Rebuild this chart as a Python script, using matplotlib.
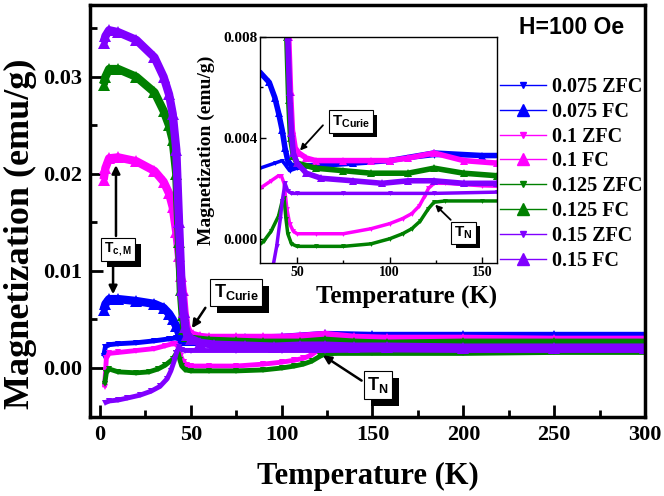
import matplotlib
matplotlib.use("Agg")
import matplotlib.pyplot as plt
import matplotlib.patheffects as pe
from matplotlib.lines import Line2D
from matplotlib.ticker import MultipleLocator, FormatStrFormatter

plt.rcParams["font.family"] = "Liberation Serif"
plt.rcParams["font.weight"] = "bold"
plt.rcParams["axes.labelweight"] = "bold"
plt.rcParams["mathtext.fontset"] = "custom"
plt.rcParams["mathtext.rm"] = "Liberation Sans:bold"
plt.rcParams["mathtext.default"] = "rm"

# M(T) curves, temperature in K, magnetization in emu/g
t_075_zfc = [2, 3, 5, 10, 20, 30, 38, 42, 44, 46, 50, 60, 80, 100, 124, 150, 200, 250, 300]
m_075_zfc = [0.0012, 0.0022, 0.0024, 0.0025, 0.0026, 0.0028, 0.0030, 0.0031, 0.0029, 0.0027,
             0.0028, 0.0029, 0.0030, 0.0031, 0.0033, 0.0033, 0.0033, 0.0033, 0.0032]

t_075_fc = [2, 3, 5, 10, 20, 30, 35, 38, 40, 42, 43.5, 45, 47, 50, 60, 80, 100, 124, 150,
            200, 250, 300]
m_075_fc = [0.0060, 0.0066, 0.0071, 0.0071, 0.0069, 0.0066, 0.0062, 0.0056, 0.0050, 0.0043,
            0.0036, 0.0031, 0.0029, 0.0029, 0.0029, 0.0030, 0.0031, 0.0034, 0.0033, 0.0033,
            0.0033, 0.0033]

t_10_zfc = [2.5, 3.5, 5, 10, 20, 30, 36, 40, 41.5, 43, 44.5, 46, 48, 50, 60, 75, 90, 100,
            107, 112, 116, 119, 121, 124, 130, 150, 200, 250, 300]
m_10_zfc = [-0.0020, 0.0010, 0.0015, 0.0016, 0.0018, 0.0020, 0.0023, 0.0025, 0.0025, 0.0022,
            0.0012, 0.0006, 0.0003, 0.0002, 0.0002, 0.0002, 0.0004, 0.0006, 0.0008, 0.0010,
            0.0013, 0.0017, 0.0020, 0.0022, 0.0022, 0.0021, 0.0020, 0.0019, 0.0019]

t_10_fc = [2, 3, 5, 10, 20, 30, 35, 38, 40, 42, 43.5, 44.5, 45.5, 46.5, 47.5, 49, 51, 55,
           60, 75, 90, 100, 110, 124, 140, 158, 200, 250, 300]
m_10_fc = [0.0194, 0.0206, 0.0216, 0.0217, 0.0213, 0.0203, 0.0192, 0.0180, 0.0166, 0.0140,
           0.0115, 0.0095, 0.0080, 0.0058, 0.0043, 0.0036, 0.0034, 0.0032, 0.0031, 0.0031,
           0.0031, 0.0031, 0.0032, 0.0034, 0.0031, 0.0030, 0.0030, 0.0029, 0.0029]

t_125_zfc = [2.5, 3.5, 5, 10, 20, 27, 32, 36, 40, 42, 43, 44, 45, 47, 50, 60, 75, 90, 100,
             107, 112, 116.5, 121, 124, 130, 150, 200, 250, 300]
m_125_zfc = [-0.0017, -0.0005, -0.0001, -0.0004, -0.0005, -0.0004, -0.0001, 0.0003, 0.0009,
             0.0015, 0.0016, 0.0008, 0.0002, -0.0002, -0.0003, -0.0003, -0.0003, -0.0002,
             0.0000, 0.0002, 0.0004, 0.0007, 0.0012, 0.00145, 0.0015, 0.0015, 0.0015,
             0.0016, 0.0016]

t_125_fc = [2, 3, 5, 10, 20, 30, 35, 38, 40, 42, 43.5, 44.5, 45.5, 46.5, 48, 50, 60, 75,
            90, 110, 124, 140, 158, 200, 250, 300]
m_125_fc = [0.0292, 0.0300, 0.0308, 0.0308, 0.0300, 0.0284, 0.0265, 0.0250, 0.0235, 0.0200,
            0.0130, 0.0080, 0.0055, 0.0040, 0.0033, 0.0030, 0.0028, 0.0027, 0.0026, 0.0026,
            0.0028, 0.0026, 0.0025, 0.0026, 0.0026, 0.0026]

t_15_zfc = [2.5, 5, 10, 15, 22, 28, 33, 37, 39, 41, 42, 43.5, 45, 47, 50, 75, 100, 124,
            158, 200, 250, 300]
m_15_zfc = [-0.0036, -0.0034, -0.0033, -0.0031, -0.0028, -0.0024, -0.0019, -0.0011, -0.0003,
            0.0008, 0.0015, 0.0022, 0.0019, 0.0018, 0.0018, 0.0018, 0.0018, 0.0018, 0.00185,
            0.0018, 0.0018, 0.0018]

t_15_fc = [2, 3, 5, 10, 20, 30, 35, 38, 40, 42, 43.5, 45, 46, 47, 48, 50, 55, 63, 80, 96,
           110, 124, 140, 158, 200, 250, 300]
m_15_fc = [0.0335, 0.0342, 0.0348, 0.0346, 0.0338, 0.0320, 0.0300, 0.0282, 0.0262, 0.0225,
           0.0150, 0.0080, 0.0058, 0.0042, 0.0034, 0.0030, 0.0026, 0.0024, 0.0023, 0.0022,
           0.0023, 0.0023, 0.0022, 0.0022, 0.0021, 0.0021, 0.0021]

labels = ["0.075 ZFC", "0.075 FC", "0.1 ZFC", "0.1 FC",
          "0.125 ZFC", "0.125 FC", "0.15 ZFC", "0.15 FC"]
curves = [(t_075_zfc, m_075_zfc), (t_075_fc, m_075_fc),
          (t_10_zfc, m_10_zfc), (t_10_fc, m_10_fc),
          (t_125_zfc, m_125_zfc), (t_125_fc, m_125_fc),
          (t_15_zfc, m_15_zfc), (t_15_fc, m_15_fc)]
colors = ["#0000ff", "#0000ff", "#ff00ff", "#ff00ff",
          "#008000", "#008000", "#8000ff", "#8000ff"]


def draw_curves(ax, lw_fc, lw_zfc, ms_fc, ms_zfc):
    for i, ((t, m), c) in enumerate(zip(curves, colors)):
        fc = i % 2 == 1
        ax.plot(t, m, color=c, lw=lw_fc if fc else lw_zfc,
                solid_capstyle="butt", solid_joinstyle="round")
        ax.plot(t, m, ls="none", color=c, marker="^" if fc else "v",
                ms=ms_fc if fc else ms_zfc, mec=c, mew=0)


def boxed(ax, x, y, s, size, shadow):
    txt = ax.text(x, y, s, fontsize=size, ha="center", va="center", zorder=10,
                  bbox=dict(boxstyle="square,pad=0.2", fc="white", ec="black", lw=0.8))
    txt.get_bbox_patch().set_path_effects(
        [pe.SimplePatchShadow(offset=(shadow, -shadow), shadow_rgbFace="black", alpha=1.0),
         pe.Normal()])
    return txt


def arrow(ax, start, tip, lw=1.8, scale=12):
    ax.annotate("", xy=tip, xytext=start, zorder=9,
                arrowprops=dict(arrowstyle="-|>", color="black", lw=lw,
                                mutation_scale=scale, shrinkA=0, shrinkB=0))


def bold_ticks(ax):
    for lab in ax.get_xticklabels() + ax.get_yticklabels():
        lab.set_fontweight("bold")


fig = plt.figure(figsize=(6.64, 4.96), dpi=100)

# main panel
ax = fig.add_axes([90 / 664, 79 / 496, 555 / 664, 412 / 496])
draw_curves(ax, lw_fc=6, lw_zfc=3.5, ms_fc=8, ms_zfc=5)
ax.set_xlim(-5.5, 300)
ax.set_ylim(-0.00505, 0.0374)
ax.xaxis.set_major_locator(MultipleLocator(50))
ax.xaxis.set_minor_locator(MultipleLocator(25))
ax.yaxis.set_major_locator(MultipleLocator(0.01))
ax.yaxis.set_minor_locator(MultipleLocator(0.005))
ax.yaxis.set_major_formatter(FormatStrFormatter("%.2f"))
ax.tick_params(which="both", direction="in", width=2, top=False, right=False,
               labelsize=16, pad=6)
ax.tick_params(which="major", length=9)
ax.tick_params(which="minor", length=5)
for sp in ax.spines.values():
    sp.set_linewidth(2.5)
ax.set_xlabel("Temperature (K)", fontsize=22)
ax.set_ylabel("Magnetization (emu/g)", fontsize=26)
ax.xaxis.set_label_coords(0.5, -0.11)
ax.yaxis.set_label_coords(-0.095, 0.445)
bold_ticks(ax)

# T_c,M marker with two arrows
boxed(ax, 10, 0.0122, r"$\mathrm{T_{c,M}}$", 10, 4)
arrow(ax, (8.8, 0.0136), (8.8, 0.0209))
arrow(ax, (7.2, 0.0108), (7.2, 0.0076))
boxed(ax, 75, 0.0078, r"$\mathrm{T_{Curie}}$", 13, 5)
arrow(ax, (58, 0.0062), (50.6, 0.0041))
boxed(ax, 153, -0.00175, r"$\mathrm{T_{N}}$", 13, 5)
arrow(ax, (144, -0.0013), (122.7, 0.0013))

fig.text(572 / 664, 1 - 28 / 496, "H=100 Oe", fontsize=16.5, family="Liberation Sans",
         weight="bold", ha="center", va="center")

# inset zoom on the transitions
ins = fig.add_axes([260 / 664, 233 / 496, 237 / 664, 226 / 496])
draw_curves(ins, lw_fc=4, lw_zfc=2.5, ms_fc=5.5, ms_zfc=3.5)
ins.set_xlim(30, 158)
ins.set_ylim(-0.00096, 0.008)
ins.xaxis.set_major_locator(MultipleLocator(50))
ins.xaxis.set_minor_locator(MultipleLocator(25))
ins.yaxis.set_major_locator(MultipleLocator(0.004))
ins.yaxis.set_minor_locator(MultipleLocator(0.002))
ins.yaxis.set_major_formatter(FormatStrFormatter("%.3f"))
ins.tick_params(which="both", direction="in", width=1, top=False, right=False, pad=2)
ins.tick_params(axis="x", labelsize=10)
ins.tick_params(axis="y", labelsize=11)
ins.tick_params(which="major", length=4)
ins.tick_params(which="minor", length=2.5)
for sp in ins.spines.values():
    sp.set_linewidth(1)
ins.set_xlabel("Temperature (K)", fontsize=18)
ins.set_ylabel("Magnetization (emu/g)", fontsize=14)
ins.xaxis.set_label_coords(0.62, -0.10)
ins.yaxis.set_label_coords(-0.19, 0.5)
bold_ticks(ins)

boxed(ins, 79, 0.00464, r"$\mathrm{T_{Curie}}$", 11, 3)
arrow(ins, (64, 0.0045), (51.6, 0.0035), lw=1.3, scale=9)
boxed(ins, 140, 0.00023, r"$\mathrm{T_{N}}$", 11, 3)
arrow(ins, (133, 0.00075), (124.6, 0.00135), lw=1.3, scale=9)

handles = []
for i, c in enumerate(colors):
    fc = i % 2 == 1
    handles.append(Line2D([], [], color=c, lw=1, marker="^" if fc else "v",
                          ms=9 if fc else 5, mec=c))
fig.legend(handles, labels, loc="upper left", bbox_to_anchor=(500 / 664, 1 - 77 / 496),
           frameon=False, prop=dict(family="Liberation Serif", weight="bold", size=14.5),
           handlelength=2.3, handletextpad=0.3, labelspacing=0.24, borderaxespad=0,
           borderpad=0)

fig.savefig("out.png", dpi=100)
